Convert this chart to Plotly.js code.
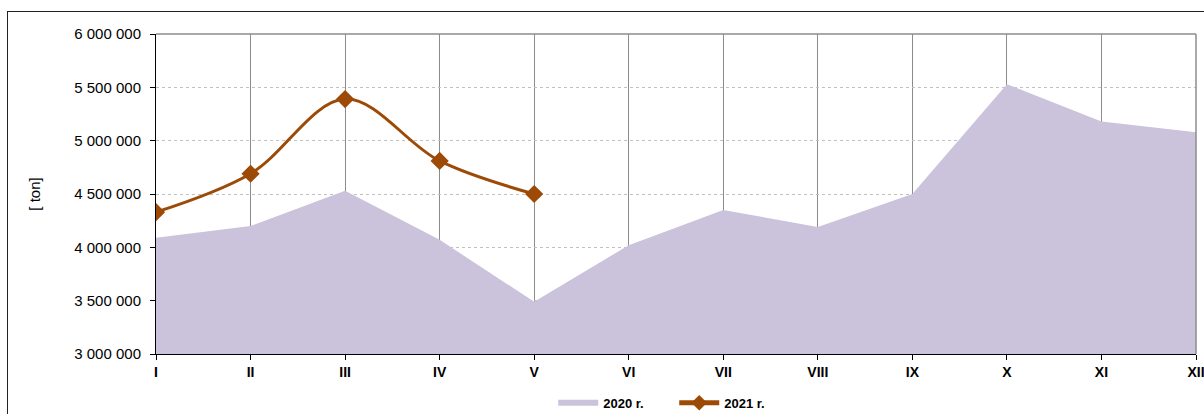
<!DOCTYPE html>
<html>
<head>
<meta charset="utf-8">
<script src="https://cdn.plot.ly/plotly-3.0.1.min.js"></script>
<style>
  html, body { margin: 0; padding: 0; background: #fff; overflow: hidden; }
  #wrap { position: relative; width: 1204px; height: 414px; }
  #chart { position: absolute; left: 0; top: 0; width: 1204px; height: 414px; }
  #frame { position: absolute; left: 7px; top: 11px; width: 1210px; height: 420px;
           border: 1px solid #222; pointer-events: none; box-sizing: border-box; }
</style>
</head>
<body>
<div id="wrap">
  <div id="chart"></div>
  <div id="frame"></div>
</div>
<script>
const months = ['I','II','III','IV','V','VI','VII','VIII','IX','X','XI','XII'];
const values2020 = [4090000, 4200000, 4530000, 4070000, 3490000, 4020000, 4350000, 4190000, 4500000, 5530000, 5180000, 5080000];
const months2021 = ['I','II','III','IV','V'];
const values2021 = [4330000, 4690000, 5390000, 4810000, 4500000];
const yTicks = [3000000, 3500000, 4000000, 4500000, 5000000, 5500000, 6000000];

const traces = [
  {
    x: months, y: values2020, name: '2020 r.',
    type: 'scatter', mode: 'none', fill: 'tozeroy',
    fillcolor: '#CBC2DB', hoverinfo: 'skip'
  },
  {
    x: months2021, y: values2021, name: '2021 r.',
    type: 'scatter', mode: 'lines+markers',
    line: { color: '#9C4A06', width: 3, shape: 'spline', smoothing: 1 },
    marker: { symbol: 'diamond', size: 14, color: '#9C4A06' }
  }
];

const layout = {
  width: 1204, height: 414,
  margin: { l: 156, r: 8, t: 34, b: 60 },
  paper_bgcolor: '#fff', plot_bgcolor: '#fff',
  separators: ', ',
  font: { family: 'Liberation Sans, Arial, sans-serif', color: '#000' },
  showlegend: true,
  legend: {
    orientation: 'h', xref: 'container', yref: 'container',
    x: 0.56, xanchor: 'center', y: 0.027, yanchor: 'middle',
    font: { size: 13, weight: 'bold', family: 'Liberation Sans, Arial, sans-serif' },
    traceorder: 'normal', itemwidth: 40, itemsizing: 'constant', entrywidth: 66
  },
  xaxis: {
    type: 'category', categoryorder: 'array', categoryarray: months,
    range: [0, 11],
    showline: true, linecolor: '#000', linewidth: 1,
    ticks: 'outside', ticklen: 5, tickcolor: '#000',
    showgrid: true, gridcolor: '#8c8c8c', gridwidth: 1,
    tickfont: { size: 14, weight: 'bold' },
    zeroline: false, fixedrange: true
  },
  yaxis: {
    range: [3000000, 6000000],
    tickvals: yTicks, tickformat: ',d',
    showline: true, linecolor: '#000', linewidth: 1,
    ticks: 'outside', ticklen: 5, tickcolor: '#000',
    showgrid: true, gridcolor: '#c0c0c0', griddash: 'dot', gridwidth: 1,
    tickfont: { size: 15 }, ticklabelstandoff: 6,
    title: { text: '[ ton]', font: { size: 15 }, standoff: 30 },
    zeroline: false, fixedrange: true
  },
  shapes: [
    { type: 'line', xref: 'paper', yref: 'paper', x0: 0, x1: 1, y0: 1, y1: 1,
      line: { color: '#8c8c8c', width: 1.5 } },
    { type: 'line', xref: 'paper', yref: 'paper', x0: 1, x1: 1, y0: 0, y1: 1,
      line: { color: '#8c8c8c', width: 1.5 } }
  ]
};

Plotly.newPlot('chart', traces, layout, { displayModeBar: false, staticPlot: true });
</script>
</body>
</html>
